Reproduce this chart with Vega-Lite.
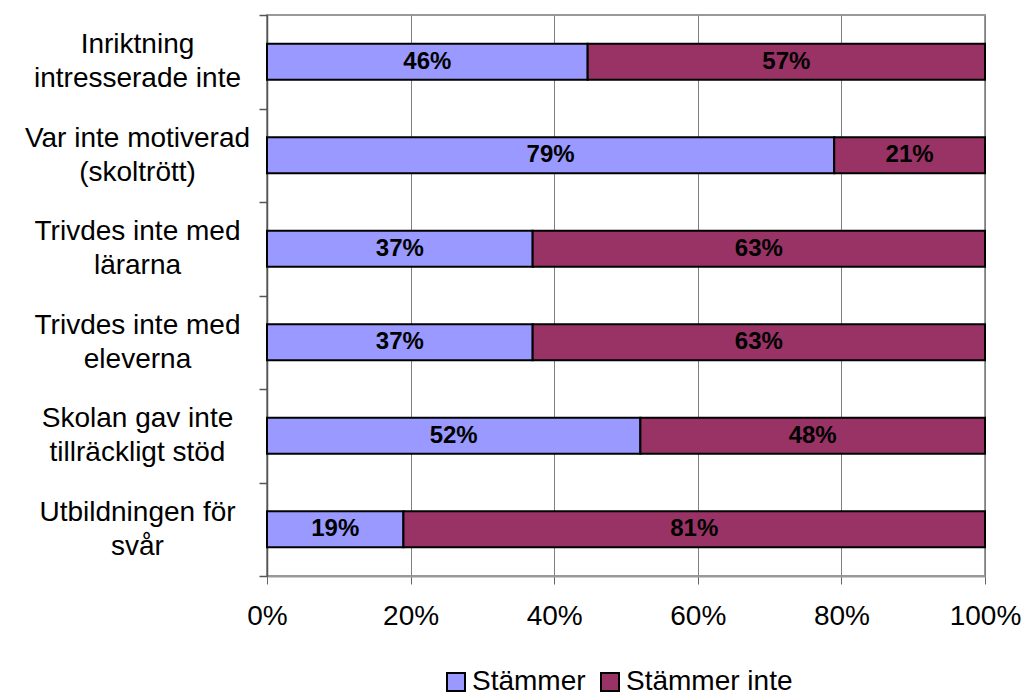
{
  "$schema": "https://vega.github.io/schema/vega-lite/v6.json",
  "width": 718,
  "height": 561,
  "autosize": "none",
  "padding": {"left": 267, "top": 15, "right": 38, "bottom": 116},
  "background": "white",
  "config": {
    "font": "Liberation Sans",
    "view": {"stroke": "#999999", "strokeWidth": 2}
  },
  "data": {
    "values": [
      {"kategori": "Inriktning\nintresserade inte", "svar": "Stämmer", "andel": 0.46},
      {"kategori": "Inriktning\nintresserade inte", "svar": "Stämmer inte", "andel": 0.57},
      {"kategori": "Var inte motiverad\n(skoltrött)", "svar": "Stämmer", "andel": 0.79},
      {"kategori": "Var inte motiverad\n(skoltrött)", "svar": "Stämmer inte", "andel": 0.21},
      {"kategori": "Trivdes inte med\nlärarna", "svar": "Stämmer", "andel": 0.37},
      {"kategori": "Trivdes inte med\nlärarna", "svar": "Stämmer inte", "andel": 0.63},
      {"kategori": "Trivdes inte med\neleverna", "svar": "Stämmer", "andel": 0.37},
      {"kategori": "Trivdes inte med\neleverna", "svar": "Stämmer inte", "andel": 0.63},
      {"kategori": "Skolan gav inte\ntillräckligt stöd", "svar": "Stämmer", "andel": 0.52},
      {"kategori": "Skolan gav inte\ntillräckligt stöd", "svar": "Stämmer inte", "andel": 0.48},
      {"kategori": "Utbildningen för\nsvår", "svar": "Stämmer", "andel": 0.19},
      {"kategori": "Utbildningen för\nsvår", "svar": "Stämmer inte", "andel": 0.81}
    ]
  },
  "encoding": {
    "y": {
      "field": "kategori",
      "type": "nominal",
      "sort": null,
      "scale": {"paddingInner": 0, "paddingOuter": 0},
      "axis": {
        "title": null,
        "tickBand": "extent",
        "labelExpr": "datum.value ? split(datum.value, '\\n') : ''",
        "labelAlign": "center",
        "labelBaseline": "middle",
        "labelPadding": 122,
        "labelOffset": -17,
        "labelFontSize": 28,
        "labelLineHeight": 34,
        "labelColor": "black",
        "labelLimit": 400,
        "tickSize": 8,
        "tickColor": "#555555",
        "tickWidth": 1.5,
        "domainColor": "#555555",
        "domainWidth": 1.5,
        "grid": false
      }
    }
  },
  "layer": [
    {
      "mark": {"type": "bar", "stroke": "black", "strokeWidth": 2, "height": {"band": 0.385}},
      "encoding": {
        "x": {
          "field": "andel",
          "type": "quantitative",
          "stack": "normalize",
          "scale": {"domain": [0, 1]},
          "axis": {
            "title": null,
            "values": [0, 0.2, 0.4, 0.6, 0.8, 1],
            "format": ".0%",
            "labelFlush": false,
            "labelFontSize": 28,
            "labelColor": "black",
            "labelPadding": 18,
            "tickSize": 8,
            "tickColor": "#666666",
            "domainColor": "#999999",
            "domainWidth": 2,
            "grid": true,
            "gridColor": "#7f7f7f",
            "gridWidth": 1
          }
        },
        "order": {"field": "svar", "type": "nominal", "sort": "ascending"},
        "color": {
          "field": "svar",
          "type": "nominal",
          "scale": {"domain": ["Stämmer", "Stämmer inte"], "range": ["#9999FF", "#993366"]},
          "legend": {
            "title": null,
            "orient": "none",
            "legendX": 175,
            "legendY": 653,
            "direction": "horizontal",
            "labelFontSize": 28,
            "labelColor": "black",
            "labelLimit": 400,
            "labelOffset": 2,
            "columnPadding": 10,
            "symbolType": "square",
            "symbolSize": 324,
            "symbolStrokeColor": "black",
            "symbolStrokeWidth": 2,
            "symbolOpacity": 1
          }
        }
      }
    },
    {
      "mark": {"type": "text", "fontWeight": "bold", "fontSize": 24, "color": "black"},
      "encoding": {
        "x": {"field": "andel", "type": "quantitative", "stack": "normalize", "bandPosition": 0.5},
        "detail": {"field": "svar", "type": "nominal"},
        "order": {"field": "svar", "type": "nominal", "sort": "ascending"},
        "text": {"field": "andel", "type": "quantitative", "format": ".0%"}
      }
    }
  ]
}
